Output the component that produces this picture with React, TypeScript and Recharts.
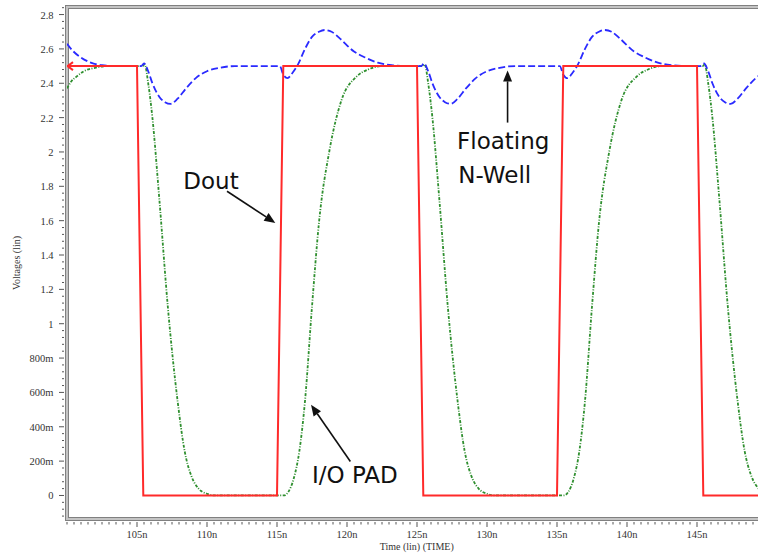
import React from 'react';
import { LineChart, Line, XAxis, YAxis, ReferenceLine, ReferenceDot, ReferenceArea, Label } from 'recharts';

// ---- Data (time in ns, voltage in V) ----
const doutTime = [100, 105.0, 105.45, 115.0, 115.45, 125.0, 125.45, 135.0, 135.45, 145.0, 145.45, 150];
const doutVolt = [2.5, 2.5, 0, 0, 2.5, 2.5, 0, 0, 2.5, 2.5, 0, 0];

const ioPadTime = [
  100, 100.3, 100.7, 101.2, 102, 103, 105.4, 105.55, 105.8, 106.1, 106.6, 107.2, 107.9, 108.4, 108.9, 109.4, 110.0, 110.5,
  115.5, 115.8, 116.2, 116.6, 117.0, 117.5, 118.0, 118.75, 119.6, 120.7, 121.5, 122.5,
  125.4, 125.55, 125.8, 126.1, 126.6, 127.2, 127.9, 128.4, 128.9, 129.4, 130.0, 130.5,
  135.5, 135.8, 136.2, 136.6, 137.0, 137.5, 138.0, 138.75, 139.6, 140.7, 141.5, 142.5,
  145.4, 145.55, 145.8, 146.1, 146.6, 147.2, 147.9, 148.4, 148.9, 149.4, 150,
];
const ioPadVolt = [
  2.37, 2.41, 2.44, 2.47, 2.49, 2.5, 2.5, 2.51, 2.4, 2.2, 1.72, 1.1, 0.55, 0.26, 0.11, 0.04, 0.01, 0,
  0, 0.02, 0.1, 0.26, 0.55, 1.1, 1.59, 2.01, 2.3, 2.44, 2.48, 2.5,
  2.5, 2.51, 2.4, 2.2, 1.72, 1.1, 0.55, 0.26, 0.11, 0.04, 0.01, 0,
  0, 0.02, 0.1, 0.26, 0.55, 1.1, 1.59, 2.01, 2.3, 2.44, 2.48, 2.5,
  2.5, 2.51, 2.4, 2.2, 1.72, 1.1, 0.55, 0.26, 0.11, 0.04, 0.01,
];

const nwellTime = [
  100, 100.4, 101, 101.7, 102.5, 103.5, 105.3, 105.5, 105.8, 106.1, 106.6, 107.0, 107.4, 107.9, 108.5, 109.2, 110.0, 110.9, 112.0,
  115.2, 115.45, 115.75, 116.1, 116.5, 117.0, 117.5, 118.0, 118.4, 118.9, 119.5, 120.5, 121.3, 122.2, 123.2, 124.2,
  125.3, 125.5, 125.8, 126.1, 126.6, 127.0, 127.4, 127.9, 128.5, 129.2, 130.0, 130.9, 132.0,
  135.2, 135.45, 135.75, 136.1, 136.5, 137.0, 137.5, 138.0, 138.4, 138.9, 139.5, 140.5, 141.3, 142.2, 143.2, 144.2,
  145.3, 145.5, 145.8, 146.1, 146.6, 147.0, 147.4, 147.9, 148.5, 149.2, 150,
];
const nwellVolt = [
  2.63, 2.59, 2.55, 2.52, 2.505, 2.5, 2.5, 2.515, 2.47, 2.4, 2.32, 2.29, 2.28, 2.31, 2.37, 2.43, 2.47, 2.49, 2.5,
  2.5, 2.45, 2.43, 2.46, 2.51, 2.6, 2.67, 2.7, 2.71, 2.7, 2.66, 2.585, 2.55, 2.52, 2.505, 2.5,
  2.5, 2.515, 2.47, 2.4, 2.32, 2.29, 2.28, 2.31, 2.37, 2.43, 2.47, 2.49, 2.5,
  2.5, 2.45, 2.43, 2.46, 2.51, 2.6, 2.67, 2.7, 2.71, 2.7, 2.66, 2.585, 2.55, 2.52, 2.505, 2.5,
  2.5, 2.515, 2.47, 2.4, 2.32, 2.29, 2.28, 2.31, 2.37, 2.43, 2.47,
];

// ---- Tick labels ----
const xTickValues = [105, 110, 115, 120, 125, 130, 135, 140, 145];
const xTickLabels = ['105n', '110n', '115n', '120n', '125n', '130n', '135n', '140n', '145n'];
const yTickValues = [0, 0.2, 0.4, 0.6, 0.8, 1, 1.2, 1.4, 1.6, 1.8, 2, 2.2, 2.4, 2.6, 2.8];
const yTickLabels = ['0', '200m', '400m', '600m', '800m', '1', '1.2', '1.4', '1.6', '1.8', '2', '2.2', '2.4', '2.6', '2.8'];

const X_DOMAIN: [number, number] = [100, 150];
const Y_DOMAIN: [number, number] = [-0.137, 2.844];

// minor ticks: x every 0.5 ns, y every 0.04 V
const xMinor: number[] = [];
for (let i = 200; i <= 300; i++) xMinor.push(i / 2);
const yMinor: number[] = [];
for (let i = -3; i <= 71; i++) yMinor.push(Math.round(i * 4) / 100);

// ---- Annotations (data coordinates) ----
const textNotes = [
  { t: 108.31, v: 1.785, text: 'Dout' },
  { t: 127.86, v: 2.017, text: 'Floating' },
  { t: 127.95, v: 1.819, text: 'N-Well' },
  { t: 117.5, v: 0.072, text: 'I/O PAD' },
];
const arrowNotes = [
  { t1: 111.43, v1: 1.771, t2: 114.88, v2: 1.587 },
  { t1: 131.47, v1: 2.171, t2: 131.47, v2: 2.475 },
  { t1: 120.24, v1: 0.198, t2: 117.43, v2: 0.528 },
];

const zip = (t: number[], v: number[]) => t.map((x, i) => ({ t: x, v: v[i] }));
const doutData = zip(doutTime, doutVolt);
const ioPadData = zip(ioPadTime, ioPadVolt);
const nwellData = zip(nwellTime, nwellVolt);

const near = (a: number, b: number) => Math.abs(a - b) < 1e-6;

const YTick = (props: any) => {
  const { x, y, payload } = props;
  const idx = yTickValues.findIndex((m) => near(m, payload.value));
  const major = idx >= 0;
  return (
    <g>
      <line x1={x - (major ? 8 : 5)} x2={x - 3} y1={y} y2={y} stroke="#555" strokeWidth={1} />
      {major && (
        <text x={x - 13.5} y={y + 4} textAnchor="end" fontFamily="'Liberation Serif', serif" fontSize={10.5} fill="#333">
          {yTickLabels[idx]}
        </text>
      )}
    </g>
  );
};

const XTick = (props: any) => {
  const { x, y, payload } = props;
  const idx = xTickValues.findIndex((m) => near(m, payload.value));
  const major = idx >= 0;
  return (
    <g>
      <line x1={x} x2={x} y1={y + 3} y2={y + (major ? 8 : 5.5)} stroke="#555" strokeWidth={1} />
      {major && (
        <text x={x} y={y + 19} textAnchor="middle" fontFamily="'Liberation Serif', serif" fontSize={10.5} fill="#333">
          {xTickLabels[idx]}
        </text>
      )}
    </g>
  );
};

const FrameShape = (props: any) => {
  const { x, y, width, height } = props;
  return (
    <g>
      <rect x={x} y={y} width={width} height={height} fill="none" stroke="#c4c4c4" strokeWidth={3} />
      <rect x={x - 1.5} y={y - 1.5} width={width + 3} height={height + 3} fill="none" stroke="#808080" strokeWidth={1} />
      <rect x={x + 1.5} y={y + 1.5} width={width - 3} height={height - 3} fill="none" stroke="#808080" strokeWidth={1} />
    </g>
  );
};

const ArrowShape = (props: any) => {
  const { x1, y1, x2, y2 } = props;
  const ang = Math.atan2(y2 - y1, x2 - x1);
  const L = 11;
  const W = 4.5;
  const bx = x2 - L * Math.cos(ang);
  const by = y2 - L * Math.sin(ang);
  const px = -Math.sin(ang) * W;
  const py = Math.cos(ang) * W;
  return (
    <g>
      <line x1={x1} y1={y1} x2={bx} y2={by} stroke="#111" strokeWidth={1.6} />
      <polygon points={`${x2},${y2} ${bx + px},${by + py} ${bx - px},${by - py}`} fill="#111" />
    </g>
  );
};

const RedStartDot = (props: any) => {
  const { cx, cy, index } = props;
  if (index !== 0) return <g key={`d${index}`} />;
  return (
    <polyline
      key="d0"
      points={`${cx + 6},${cy - 4} ${cx + 0.5},${cy} ${cx + 6},${cy + 4}`}
      fill="none"
      stroke="#ff2a2a"
      strokeWidth={2}
    />
  );
};

export default function App() {
  return (
    <div style={{ position: 'absolute', left: 0, top: 0, width: 758, height: 557, overflow: 'hidden', background: '#fff' }}>
      <LineChart width={800} height={557} margin={{ top: 7, right: 33, bottom: 0, left: 0 }}>
        <XAxis
          dataKey="t"
          type="number"
          domain={X_DOMAIN}
          allowDataOverflow
          ticks={xMinor}
          interval={0}
          tick={<XTick />}
          tickLine={false}
          axisLine={false}
          tickSize={0}
          tickMargin={0}
          height={38}
        >
          <Label
            content={(p: any) => {
              const vb = p.viewBox || {};
              return (
                <text x={416.7} y={(vb.y || 519) + 31} textAnchor="middle" fontFamily="'Liberation Serif', serif" fontSize={10} fill="#333">
                  Time (lin) (TIME)
                </text>
              );
            }}
          />
        </XAxis>
        <YAxis
          dataKey="v"
          type="number"
          domain={Y_DOMAIN}
          allowDataOverflow
          ticks={yMinor}
          interval={0}
          tick={<YTick />}
          tickLine={false}
          axisLine={false}
          tickSize={0}
          tickMargin={0}
          width={67}
        >
          <Label
            content={(p: any) => {
              const vb = p.viewBox || {};
              const cy = (vb.y || 7) + (vb.height || 512) / 2;
              return (
                <text x={20} y={cy} transform={`rotate(-90 20 ${cy})`} textAnchor="middle" fontFamily="'Liberation Serif', serif" fontSize={10} fill="#333">
                  Voltages (lin)
                </text>
              );
            }}
          />
        </YAxis>
        <ReferenceArea x1={X_DOMAIN[0]} x2={X_DOMAIN[1]} y1={Y_DOMAIN[0]} y2={Y_DOMAIN[1]} ifOverflow="visible" shape={<FrameShape />} />
        <Line
          data={ioPadData}
          dataKey="v"
          type="monotone"
          stroke="#2f8f2f"
          strokeWidth={1.8}
          strokeDasharray="3 1.5 1 1.5"
          dot={false}
          isAnimationActive={false}
        />
        <Line
          data={nwellData}
          dataKey="v"
          type="monotone"
          stroke="#2a2aff"
          strokeWidth={1.8}
          strokeDasharray="7 3"
          dot={false}
          isAnimationActive={false}
        />
        <Line
          data={doutData}
          dataKey="v"
          type="linear"
          stroke="#ff2a2a"
          strokeWidth={2}
          dot={<RedStartDot />}
          isAnimationActive={false}
        />
        {arrowNotes.map((a, i) => (
          <ReferenceLine
            key={`a${i}`}
            segment={[{ x: a.t1, y: a.v1 }, { x: a.t2, y: a.v2 }]}
            ifOverflow="visible"
            shape={(p: any) => <ArrowShape {...p} />}
          />
        ))}
        {textNotes.map((n, i) => (
          <ReferenceDot
            key={`n${i}`}
            x={n.t}
            y={n.v}
            ifOverflow="visible"
            shape={(p: any) => (
              <text x={p.cx} y={p.cy} fontFamily="'DejaVu Sans', sans-serif" fontSize={23} fill="#111">
                {n.text}
              </text>
            )}
          />
        ))}
      </LineChart>
    </div>
  );
}
